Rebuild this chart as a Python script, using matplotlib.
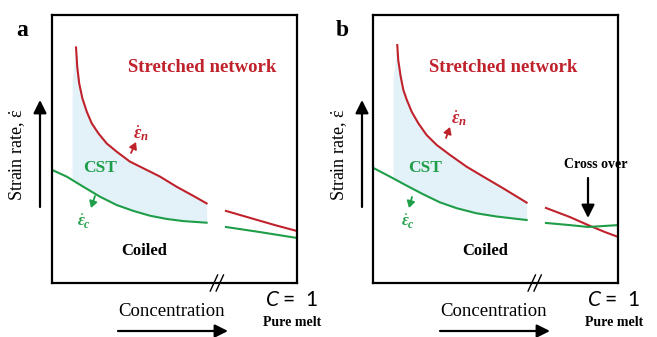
import matplotlib
matplotlib.use("Agg")
import matplotlib.pyplot as plt
from matplotlib.patches import FancyArrowPatch
import numpy as np

plt.rcParams['font.family'] = ['Liberation Serif', 'DejaVu Serif']
plt.rcParams['mathtext.fontset'] = 'custom'
plt.rcParams['mathtext.it'] = 'Liberation Serif:italic:bold'
plt.rcParams['mathtext.rm'] = 'Liberation Serif'
plt.rcParams['mathtext.fallback'] = 'stix'

RED = '#c0222c'
GREEN = '#1e9e48'
FILL = '#e3f1f8'

# panel a curves (x = concentration, y = strain rate, arbitrary units 0..10)
a_red1_x = [0.98, 1.03, 1.11, 1.24, 1.42, 1.62, 1.89, 2.23, 2.64, 3.18, 3.73, 4.41, 5.09, 5.77, 6.31]
a_red1_y = [8.79, 8.07, 7.45, 6.89, 6.39, 5.96, 5.59, 5.21, 4.90, 4.53, 4.28, 3.97, 3.59, 3.25, 2.97]
a_red2_x = [7.10, 8.08, 9.10, 10.0]
a_red2_y = [2.69, 2.43, 2.16, 1.94]
a_grn1_x = [0.0, 0.60, 1.28, 1.96, 2.64, 3.32, 4.00, 4.68, 5.36, 6.31]
a_grn1_y = [4.22, 3.97, 3.59, 3.22, 2.91, 2.69, 2.51, 2.39, 2.31, 2.25]
a_grn2_x = [7.10, 8.49, 10.0]
a_grn2_y = [2.09, 1.90, 1.68]

# panel b curves
b_red1_x = [0.99, 1.03, 1.13, 1.24, 1.38, 1.58, 1.85, 2.19, 2.60, 3.14, 3.82, 4.50, 5.32, 6.27]
b_red1_y = [8.88, 8.32, 7.70, 7.20, 6.83, 6.39, 5.96, 5.52, 5.15, 4.78, 4.34, 3.97, 3.53, 3.00]
b_red2_x = [7.06, 8.04, 8.78, 9.47, 10.0]
b_red2_y = [2.80, 2.46, 2.16, 1.90, 1.72]
b_grn1_x = [0.0, 0.69, 1.38, 2.05, 2.73, 3.42, 4.23, 5.05, 6.27]
b_grn1_y = [4.30, 3.97, 3.63, 3.31, 3.01, 2.79, 2.60, 2.48, 2.35]
b_grn2_x = [7.06, 8.04, 8.78, 9.47, 10.0]
b_grn2_y = [2.24, 2.16, 2.09, 2.13, 2.16]

W, H = 657, 337
fig = plt.figure(figsize=(W / 100, H / 100), dpi=100)


def fx(x):
    return x / W


def fy(y):
    return 1 - y / H


def arrow(x0, y0, x1, y1, color, hl=6, hw=3, lw=1.6):
    fig.add_artist(FancyArrowPatch(
        (fx(x0), fy(y0)), (fx(x1), fy(y1)), transform=fig.transFigure,
        arrowstyle=f'-|>,head_length={hl},head_width={hw}', color=color, lw=lw,
        mutation_scale=1.3, shrinkA=0, shrinkB=0))


def panel(left, red1, red2, grn1, grn2, brk):
    ax = fig.add_axes([fx(left), fy(283), 245 / W, 268 / H])
    ax.set_xlim(0, 10)
    ax.set_ylim(0, 10)
    ax.set_xticks([])
    ax.set_yticks([])
    for s in ax.spines.values():
        s.set_linewidth(1.6)
    # shaded CST region between the two curves, starting slightly left of the red curve
    rx = np.concatenate([[0.82], red1[0]])
    ry = np.concatenate([[red1[1][0] - 1.2], red1[1]])
    gy = np.interp(rx, grn1[0], grn1[1])
    ax.fill_between(rx, gy, ry, color=FILL, lw=0)
    ax.plot(*red1, color=RED, lw=1.5)
    ax.plot(*red2, color=RED, lw=1.5)
    ax.plot(*grn1, color=GREEN, lw=1.5)
    ax.plot(*grn2, color=GREEN, lw=1.5)
    # break marks on the bottom axis
    for dx in (-0.12, 0.12):
        ax.plot([brk + dx - 0.15, brk + dx + 0.15], [-0.3, 0.3], color='black',
                lw=1.0, clip_on=False)
    return ax


ax_a = panel(52, (a_red1_x, a_red1_y), (a_red2_x, a_red2_y),
             (a_grn1_x, a_grn1_y), (a_grn2_x, a_grn2_y), 6.73)
ax_b = panel(373, (b_red1_x, b_red1_y), (b_red2_x, b_red2_y),
             (b_grn1_x, b_grn1_y), (b_grn2_x, b_grn2_y), 6.6)


def labels(off, tag, tagx, sx, nx, ny, cx, ecx, coilx, arrow_n, arrow_c):
    fig.text(fx(tagx), fy(30), tag, fontsize=17, fontweight='bold', ha='center', va='center')
    fig.text(fx(sx), fy(68), 'Stretched network', color=RED, fontsize=13.5,
             fontweight='bold', ha='center', va='center')
    fig.text(fx(nx), fy(ny), r'$\dot{\varepsilon}_n$', color=RED, fontsize=13,
             ha='center', va='center')
    fig.text(fx(cx), fy(168), 'CST', color=GREEN, fontsize=12.5, fontweight='bold',
             ha='center', va='center')
    fig.text(fx(ecx), fy(222), r'$\dot{\varepsilon}_c$', color=GREEN, fontsize=12,
             ha='center', va='center')
    fig.text(fx(coilx), fy(251), 'Coiled', color='black', fontsize=12,
             fontweight='bold', ha='center', va='center')
    fig.text(fx(off + 18), fy(155), r'Strain rate, $\dot{\mathrm{\varepsilon}}$', rotation=90,
             fontsize=13, ha='center', va='center')
    fig.text(fx(off + 172), fy(312), 'Concentration', fontsize=13.5, ha='center', va='center')
    fig.text(fx(off + 272), fy(300), 'C', family='Lato', style='italic', fontsize=15,
             ha='center', va='center')
    fig.text(fx(off + 283), fy(300), '=  1', family='Lato', fontsize=15,
             ha='left', va='center')
    fig.text(fx(off + 292), fy(322), 'Pure melt', fontsize=10, fontweight='bold',
             ha='center', va='center')
    # axis arrows
    arrow(off + 40, 207, off + 40, 100, 'black')
    arrow(off + 118, 331, off + 228, 331, 'black')
    # small arrows
    arrow(*arrow_n, RED, hl=3, hw=1.8, lw=1.3)
    arrow(*arrow_c, GREEN, hl=3, hw=1.8, lw=1.3)


labels(0, 'a', 22, 202, 141, 133, 100, 84, 144, (131, 153, 136, 142), (95, 196, 91, 208))
labels(322, 'b', 342, 503, 459, 118, 425, 408, 485, (446, 138, 450, 127), (412, 197, 409, 208))

fig.text(fx(596), fy(165), 'Cross over', fontsize=10, fontweight='bold', ha='center', va='center')
arrow(588, 178, 588, 218, 'black')

fig.savefig('out.png', dpi=100)
